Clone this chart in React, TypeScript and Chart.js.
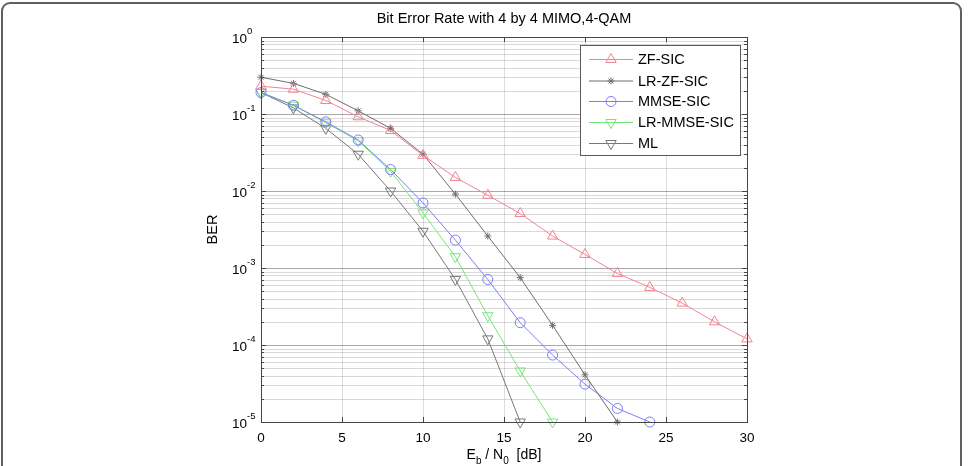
import React, { useEffect, useRef } from 'react';
import { Chart, registerables } from 'chart.js';

Chart.register(...registerables);

// Eb/N0 sweep in dB
const ebn0 = [0, 2, 4, 6, 8, 10, 12, 14, 16, 18, 20, 22, 24, 26, 28, 30];

// Simulated bit error rates per detector
const zfSic = [0.23, 0.21, 0.15, 0.092, 0.061, 0.029, 0.015, 0.0088, 0.0051, 0.0026, 0.0015, 8.5e-4, 5.6e-4, 3.5e-4, 2.0e-4, 1.2e-4];
const lrZfSic = [0.3, 0.25, 0.18, 0.11, 0.065, 0.03, 0.0091, 0.0026, 7.5e-4, 1.8e-4, 4.1e-5, 1.0e-5];
const mmseSic = [0.19, 0.13, 0.079, 0.046, 0.019, 0.007, 0.0023, 7.1e-4, 1.95e-4, 7.4e-5, 3.1e-5, 1.5e-5, 1.0e-5];
const lrMmseSic = [0.19, 0.13, 0.077, 0.045, 0.018, 0.0052, 0.0014, 2.4e-4, 4.6e-5, 1.0e-5];
const ml = [0.19, 0.12, 0.065, 0.03, 0.01, 0.003, 7.1e-4, 1.2e-4, 1.0e-5];

const seriesNames = ['ZF-SIC', 'LR-ZF-SIC', 'MMSE-SIC', 'LR-MMSE-SIC', 'ML'];
const xTicks = [0, 5, 10, 15, 20, 25, 30];
const yDecades = [0, -1, -2, -3, -4, -5];

const titleText = 'Bit Error Rate with 4 by 4 MIMO,4-QAM';

const W = 971;
const H = 466;
const FONT = '"Liberation Sans", Arial, Helvetica, sans-serif';

type Marker = 'up' | 'down' | 'star' | 'circle';

const styles: { color: string; marker: Marker; r: number }[] = [
  { color: 'rgb(242,130,148)', marker: 'up', r: 6 },
  { color: 'rgb(110,110,110)', marker: 'star', r: 3.5 },
  { color: 'rgb(125,125,238)', marker: 'circle', r: 5 },
  { color: 'rgb(120,228,120)', marker: 'down', r: 6 },
  { color: 'rgb(120,120,120)', marker: 'down', r: 6 },
];

const seriesValues = [zfSic, lrZfSic, mmseSic, lrMmseSic, ml];

function toPoints(vals: number[]) {
  return vals.map((v, i) => ({ x: ebn0[i], y: v }));
}

function drawMarker(ctx: CanvasRenderingContext2D, m: Marker, x: number, y: number, r: number, color: string) {
  ctx.save();
  ctx.strokeStyle = color;
  ctx.lineWidth = 1;
  ctx.beginPath();
  if (m === 'circle') {
    ctx.arc(x, y, r, 0, Math.PI * 2);
  } else if (m === 'up' || m === 'down') {
    const s = m === 'up' ? 1 : -1;
    const h = r * 0.866;
    ctx.moveTo(x, y - s * r);
    ctx.lineTo(x + h, y + s * r * 0.5);
    ctx.lineTo(x - h, y + s * r * 0.5);
    ctx.closePath();
  } else {
    ctx.moveTo(x - r, y);
    ctx.lineTo(x + r, y);
    ctx.moveTo(x, y - r);
    ctx.lineTo(x, y + r);
    const d = r * 0.707;
    ctx.moveTo(x - d, y - d);
    ctx.lineTo(x + d, y + d);
    ctx.moveTo(x - d, y + d);
    ctx.lineTo(x + d, y - d);
  }
  ctx.stroke();
  ctx.restore();
}

const matlabAxes = {
  id: 'matlabAxes',
  beforeDatasetsDraw(chart: any) {
    const { ctx, chartArea: a, scales } = chart;
    const xs = scales.x;
    const ys = scales.y;
    ctx.save();
    ctx.lineWidth = 1;
    // vertical grid
    ctx.strokeStyle = 'rgba(0,0,0,0.13)';
    for (const t of xTicks) {
      if (t === 0 || t === 30) continue;
      const px = Math.round(xs.getPixelForValue(t)) + 0.5;
      ctx.beginPath();
      ctx.moveTo(px, a.top);
      ctx.lineTo(px, a.bottom);
      ctx.stroke();
    }
    // horizontal log grid: decades darker, minor lighter
    for (let e = -5; e < 0; e++) {
      for (let m = 1; m <= 9; m++) {
        if (m === 1 && e === -5) continue;
        const v = m * Math.pow(10, e);
        const py = Math.round(ys.getPixelForValue(v)) + 0.5;
        ctx.strokeStyle = m === 1 ? 'rgba(0,0,0,0.34)' : 'rgba(0,0,0,0.15)';
        ctx.beginPath();
        ctx.moveTo(a.left, py);
        ctx.lineTo(a.right, py);
        ctx.stroke();
      }
    }
    ctx.restore();
  },
  afterDatasetsDraw(chart: any) {
    const { ctx, chartArea: a, scales } = chart;
    const xs = scales.x;
    const ys = scales.y;
    ctx.save();
    // axes box
    ctx.strokeStyle = 'rgb(70,70,70)';
    ctx.lineWidth = 1;
    ctx.strokeRect(Math.round(a.left) + 0.5, Math.round(a.top) + 0.5, Math.round(a.right - a.left), Math.round(a.bottom - a.top));
    // inward tick marks
    ctx.beginPath();
    for (const t of xTicks) {
      const px = Math.round(xs.getPixelForValue(t)) + 0.5;
      ctx.moveTo(px, a.bottom);
      ctx.lineTo(px, a.bottom - 5);
      ctx.moveTo(px, a.top);
      ctx.lineTo(px, a.top + 5);
    }
    for (let e = -5; e < 0; e++) {
      for (let m = 1; m <= 9; m++) {
        const py = Math.round(ys.getPixelForValue(m * Math.pow(10, e))) + 0.5;
        const len = m === 1 ? 5 : 3;
        ctx.moveTo(a.left, py);
        ctx.lineTo(a.left + len, py);
        ctx.moveTo(a.right, py);
        ctx.lineTo(a.right - len, py);
      }
    }
    ctx.stroke();

    ctx.fillStyle = '#000';
    // x tick labels
    ctx.font = `13.5px ${FONT}`;
    ctx.textAlign = 'center';
    ctx.textBaseline = 'alphabetic';
    for (const t of xTicks) {
      ctx.fillText(String(t), xs.getPixelForValue(t), 442);
    }
    // y tick labels as 10^n
    for (const d of yDecades) {
      const py = ys.getPixelForValue(Math.pow(10, d));
      ctx.font = `13.5px ${FONT}`;
      ctx.textAlign = 'right';
      ctx.fillText('10', a.left - 14, py + 6);
      ctx.font = `9.5px ${FONT}`;
      ctx.textAlign = 'left';
      ctx.fillText(String(d), a.left - 14, py - 3);
    }

    // axis titles
    const cx = (a.left + a.right) / 2;
    ctx.textAlign = 'left';
    const parts: [string, boolean][] = [
      ['E', false], ['b', true], [' / N', false], ['0', true], ['  [dB]', false],
    ];
    let total = 0;
    for (const [s, sub] of parts) {
      ctx.font = `${sub ? 10 : 14}px ${FONT}`;
      total += ctx.measureText(s).width;
    }
    let x0 = cx - total / 2;
    for (const [s, sub] of parts) {
      ctx.font = `${sub ? 10 : 14}px ${FONT}`;
      ctx.fillText(s, x0, sub ? 464 : 459);
      x0 += ctx.measureText(s).width;
    }

    ctx.save();
    ctx.translate(217, (a.top + a.bottom) / 2);
    ctx.rotate(-Math.PI / 2);
    ctx.font = `14.5px ${FONT}`;
    ctx.textAlign = 'center';
    ctx.fillText('BER', 0, 0);
    ctx.restore();

    // title
    ctx.font = `14.5px ${FONT}`;
    ctx.textAlign = 'center';
    ctx.fillText(titleText, cx, 23);

    // legend
    const lx = 580.5, ly = 45.5, lw = 160, lh = 110;
    ctx.fillStyle = '#fff';
    ctx.fillRect(lx, ly, lw, lh);
    ctx.strokeStyle = 'rgb(90,90,90)';
    ctx.lineWidth = 1;
    ctx.strokeRect(lx, ly, lw, lh);
    const rows = [59, 80.5, 101, 122, 143];
    seriesNames.forEach((name, i) => {
      const st = styles[i];
      const y = rows[i];
      ctx.strokeStyle = st.color;
      ctx.beginPath();
      ctx.moveTo(589, y + 0.5);
      ctx.lineTo(633, y + 0.5);
      ctx.stroke();
      drawMarker(ctx, st.marker, 611, y + 0.5, st.r, st.color);
      ctx.fillStyle = '#000';
      ctx.font = `14.5px ${FONT}`;
      ctx.textAlign = 'left';
      ctx.textBaseline = 'middle';
      ctx.fillText(name, 638, y + 1);
    });

    // figure frame
    ctx.strokeStyle = 'rgb(95,95,95)';
    ctx.lineWidth = 2;
    const fl = 2, ft = 3, fr = 961, rad = 8;
    ctx.beginPath();
    ctx.moveTo(fl, H + 10);
    ctx.lineTo(fl, ft + rad);
    ctx.arcTo(fl, ft, fl + rad, ft, rad);
    ctx.lineTo(fr - rad, ft);
    ctx.arcTo(fr, ft, fr, ft + rad, rad);
    ctx.lineTo(fr, H + 10);
    ctx.stroke();
    ctx.restore();
  },
};

export default function App() {
  const ref = useRef<HTMLCanvasElement>(null);

  useEffect(() => {
    document.body.style.margin = '0';
    const canvas = ref.current;
    if (!canvas) return;
    const chart = new Chart(canvas, {
      type: 'line',
      data: {
        datasets: seriesNames.map((name, i) => {
          const st = styles[i];
          return {
            label: name,
            data: toPoints(seriesValues[i]),
            borderColor: st.color,
            borderWidth: 1,
            backgroundColor: 'rgba(0,0,0,0)',
            pointBackgroundColor: 'rgba(0,0,0,0)',
            pointBorderColor: st.color,
            pointBorderWidth: 1,
            pointRadius: st.r,
            pointStyle: st.marker === 'star' ? 'star' : st.marker === 'circle' ? 'circle' : 'triangle',
            pointRotation: st.marker === 'down' ? 180 : 0,
            tension: 0,
            fill: false,
            clip: false,
          } as any;
        }),
      },
      options: {
        responsive: false,
        animation: false,
        devicePixelRatio: 1,
        layout: { padding: { left: 261, right: 224, top: 37, bottom: 44 } },
        scales: {
          x: { type: 'linear', min: 0, max: 30, display: false },
          y: { type: 'logarithmic', min: 1e-5, max: 1, display: false },
        },
        plugins: {
          legend: { display: false },
          tooltip: { enabled: false },
        },
        events: [],
      },
      plugins: [matlabAxes],
    });
    return () => chart.destroy();
  }, []);

  return (
    <div style={{ width: W, height: H, background: '#fff' }}>
      <canvas ref={ref} width={W} height={H} style={{ display: 'block', width: W, height: H }} />
    </div>
  );
}
